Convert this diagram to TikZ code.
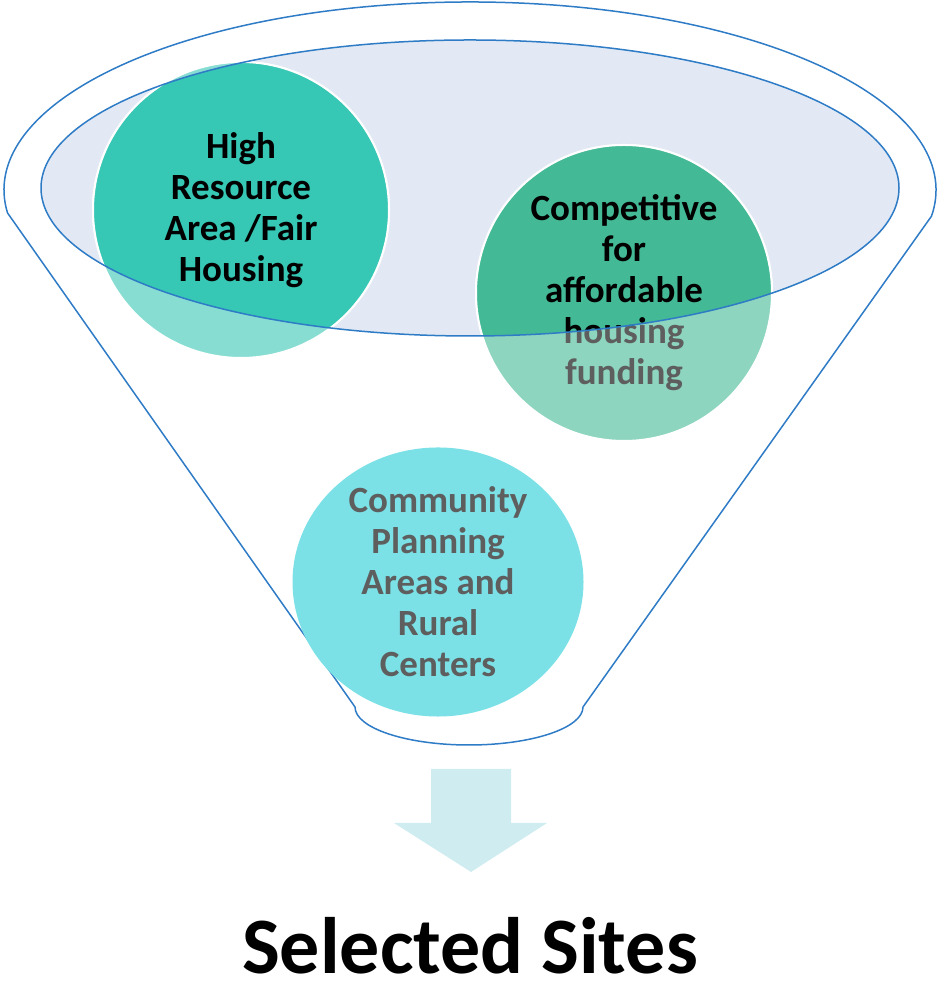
\documentclass[tikz,border=0pt]{standalone}
\usepackage{fontspec}
\setmainfont{Carlito}
\usepackage{tikz}
\usetikzlibrary{shapes.geometric}

\definecolor{funnelblue}{HTML}{2E7BC6}
\definecolor{lidfill}{HTML}{E2E9F4}
\definecolor{resdark}{HTML}{36C7B5}
\definecolor{reslight}{HTML}{88DDD3}
\definecolor{compdark}{HTML}{44B996}
\definecolor{complight}{HTML}{8DD5BF}
\definecolor{commfill}{HTML}{7BE1E6}
\definecolor{textgray}{HTML}{5E5E5E}
\definecolor{arrowfill}{HTML}{CFECF0}

\begin{document}
\begin{tikzpicture}[x=1pt, y=1pt, line width=1.5pt,
    bubble/.style={circle, minimum size=296pt, inner sep=0pt, align=center,
        font=\bfseries\fontsize{37}{41}\selectfont, text=textgray},
    rim/.style={draw=white, line width=2pt}]
    \useasboundingbox (0,0) rectangle (937,984);

    \draw[line join = round, color=funnelblue]
    (355,277) --
    (7.5,771.1) arc[start angle=187, end angle=-8, x radius=466, y radius=188] --
    (583,277) arc[start angle=0, end angle=-180, x radius=114, y radius=38] --
    cycle;

    \fill[lidfill] (470,796) ellipse [x radius=429, y radius=148];

    \node[bubble, rim, fill=reslight] (high) at (241,774) {High\\Resource\\Area /Fair\\Housing};
    \node[bubble, rim, fill=complight] (comp) at (624,691) {Competitive\\for\\affordable\\housing\\funding};
    \node[bubble, ellipse, minimum width=291pt, minimum height=259pt, fill=commfill]
        (comm) at (438,402) {Community\\Planning\\Areas and\\Rural\\Centers};

    \begin{scope}
        \clip (470,796) ellipse [x radius=429, y radius=148];
        \node[bubble, rim, fill=resdark, text=black] at (high) {High\\Resource\\Area /Fair\\Housing};
        \node[bubble, rim, fill=compdark, text=black] at (comp) {Competitive\\for\\affordable\\housing\\funding};
    \end{scope}

    \draw[color=funnelblue] (470,796) ellipse [x radius=429, y radius=148];

    \fill[arrowfill]
    (431,215) -- (511,215) -- (511,161) -- (547,161) --
    (471,112) --
    (394,161) -- (431,161) -- cycle;

    \node[anchor=base, inner sep=0pt, font=\bfseries\fontsize{80}{88}\selectfont] (sites) at (470,10) {Selected Sites};
\end{tikzpicture}
\end{document}
